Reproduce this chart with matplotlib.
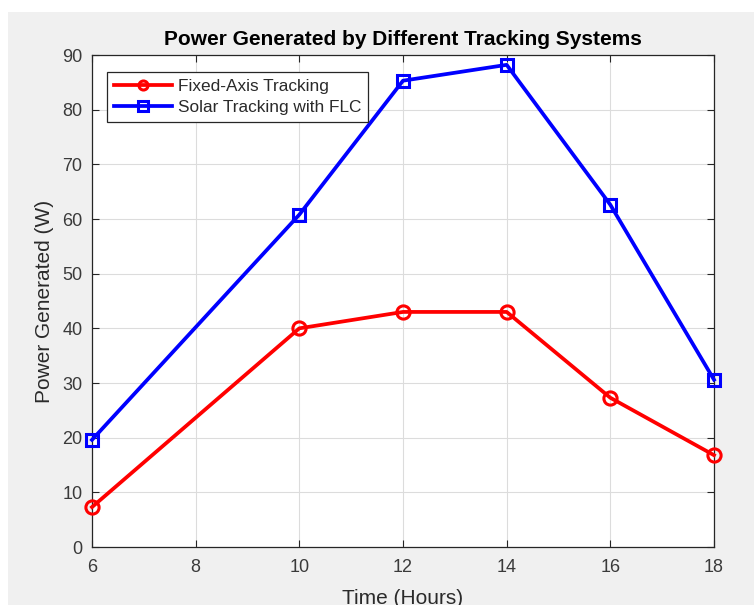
import matplotlib.pyplot as plt
import matplotlib.patches as mpatches
import numpy as np

plt.rcParams['font.family'] = ['Liberation Sans', 'DejaVu Sans']

hours_fixed = [6, 10, 12, 14, 16, 18]
power_fixed = [7.3, 40.0, 43.0, 43.0, 27.3, 16.8]
hours_flc = [6, 10, 12, 14, 16, 18]
power_flc = [19.6, 60.8, 85.3, 88.2, 62.6, 30.6]

xticks = [6, 8, 10, 12, 14, 16, 18]
yticks = np.arange(0, 91, 10)

fig = plt.figure(figsize=(7.54, 6.05), dpi=100, facecolor='#f0f0f0')
# screenshot has a thin white strip at top and left
fig.add_artist(mpatches.Rectangle((0, 1 - 12 / 605), 1, 12 / 605, transform=fig.transFigure,
                                  facecolor='white', edgecolor='none', zorder=-5))
fig.add_artist(mpatches.Rectangle((0, 0), 8 / 754, 1, transform=fig.transFigure,
                                  facecolor='white', edgecolor='none', zorder=-5))

ax = fig.add_axes([92 / 754, 58 / 605, 622 / 754, 492 / 605])
ax.set_facecolor('white')

ax.plot(hours_fixed, power_fixed, color='#ff0000', lw=2.7, marker='o', ms=9.5,
        mfc='none', mew=2.2, label='Fixed-Axis Tracking', clip_on=False, zorder=3)
ax.plot(hours_flc, power_flc, color='#0000ff', lw=2.7, marker='s', ms=8.5,
        mfc='none', mew=2.2, label='Solar Tracking with FLC', clip_on=False, zorder=3)

ax.set_xlim(6, 18)
ax.set_ylim(0, 90)
ax.set_xticks(xticks)
ax.set_yticks(yticks)
ax.grid(True, color='#dcdcdc', lw=0.8)
ax.set_axisbelow(True)
ax.tick_params(direction='in', top=True, right=True, length=5, width=0.8,
               colors='#262626', labelcolor='#3a3a3a', labelsize=13)
ax.tick_params(axis='x', pad=9)
ax.tick_params(axis='y', pad=7)
for s in ax.spines.values():
    s.set_color('#262626')
    s.set_linewidth(0.9)

ax.set_title('Power Generated by Different Tracking Systems', fontsize=15,
             fontweight='bold', color='black', pad=7)
ax.set_xlabel('Time (Hours)', fontsize=15, color='#2a2a2a', labelpad=9)
ax.set_ylabel('Power Generated (W)', fontsize=15, color='#2a2a2a', labelpad=6)

leg = ax.legend(loc='upper left', bbox_to_anchor=(0.024, 0.965), fontsize=12.4,
                handlelength=3.4, borderpad=0.4, labelspacing=0.35,
                handletextpad=0.3, fancybox=False, framealpha=1,
                edgecolor='#262626', borderaxespad=0)
leg.get_frame().set_linewidth(0.9)
for t in leg.get_texts():
    t.set_color('#2a2a2a')
for h in leg.legend_handles:
    h.set_markersize(6.5)

fig.savefig('out.png', dpi=100, facecolor=fig.get_facecolor())
